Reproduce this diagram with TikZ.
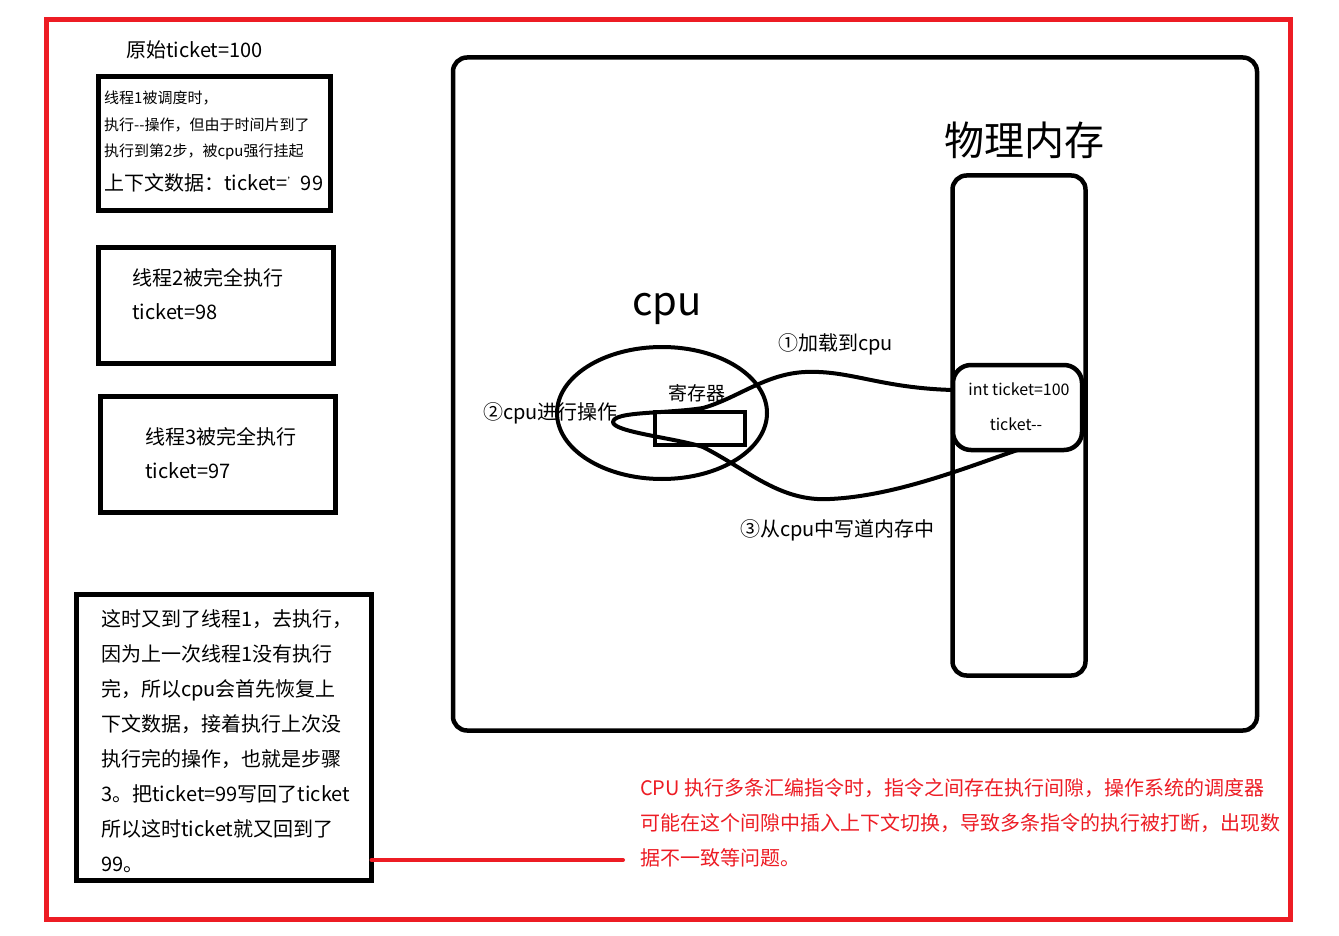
\documentclass[tikz,border=0pt]{standalone}
\usepackage{fontspec}
\usetikzlibrary{shapes.geometric}
\setmainfont{Noto Sans CJK SC}
\definecolor{pred}{RGB}{237,28,36}
\newcommand{\fs}[2]{\fontsize{#1}{#2}\selectfont}
\tikzset{
  redframe/.style={draw=pred, line width=5pt},
  blackbox/.style={draw=black, line width=5pt, rectangle, inner sep=0pt, outer sep=0pt, anchor=north west},
  roundbox/.style={draw=black, line width=4.5pt, rectangle, rounded corners=#1, inner sep=0pt, outer sep=0pt, anchor=north west},
  txt/.style={inner sep=0pt, anchor=west, font=\fs{20}{24}},
  smalltxt/.style={inner sep=0pt, anchor=west, font=\fs{15}{18}},
  multi/.style={inner sep=0pt, anchor=north west, align=left, font=\fs{20}{35}},
  redtxt/.style={inner sep=0pt, anchor=north west, align=left, font=\fs{20}{35}, text=pred},
  bigtxt/.style={inner sep=0pt, font=\fs{40}{48}},
  curve/.style={draw=black, line width=4pt, line cap=round, line join=round},
  redline/.style={draw=pred, line width=4pt, line cap=round},
}
\begin{document}
\begin{tikzpicture}[x=1pt,y=-1pt]
\useasboundingbox[fill=white] (0,0) rectangle (1339,936);
% outer red frame
\draw[redframe] (46.5,19.5) rectangle (1290,919);

% title
\node[txt] (orig) at (126,50) {原始ticket=100};

% box 1
\node[blackbox, minimum width=232pt, minimum height=134pt] (b1) at (98.5,76.5) {};
\node[smalltxt] (b1l1) at (104,98) {线程1被调度时，};
\node[smalltxt] (b1l2) at (104,125) {执行-{}-操作，但由于时间片到了};
\node[smalltxt] (b1l3) at (104,152) {执行到第2步，被cpu强行挂起};
\node[txt] (b1l4) at (104,183) {上下文数据：ticket={\fs{10}{10}\raisebox{5pt}{'}}\,99};

% box 2
\node[blackbox, minimum width=235pt, minimum height=116pt] (b2) at (98.5,247.5) {};
\node[txt] (b2l1) at (132,278) {线程2被完全执行};
\node[txt] (b2l2) at (132,312) {ticket=98};

% box 3
\node[blackbox, minimum width=235pt, minimum height=116pt] (b3) at (100.5,396.5) {};
\node[txt] (b3l1) at (145,437) {线程3被完全执行};
\node[txt] (b3l2) at (145,471) {ticket=97};

% box 4
\node[blackbox, minimum width=295pt, minimum height=286pt] (b4) at (76.5,594.5) {};
\node[multi] (b4t) at (101,609) {这时又到了线程1，去执行，\\因为上一次线程1没有执行\\完，所以cpu会首先恢复上\\下文数据，接着执行上次没\\执行完的操作，也就是步骤\\3。把ticket=99写回了ticket\\所以这时ticket就又回到了\\99。};

% red note and connector
\coordinate (redmid) at (497,860);
\coordinate (redend) at (623,860);
\draw[redline] (b4.east |- redmid) -- (redmid) -- (redend);
\node[redtxt] (note) at (640,778) {CPU 执行多条汇编指令时，指令之间存在执行间隙，操作系统的调度器\\可能在这个间隙中插入上下文切换，导致多条指令的执行被打断，出现数\\据不一致等问题。};

% big system frame
\node[roundbox=14pt, minimum width=804pt, minimum height=673pt] (sys) at (453,57.5) {};

% physical memory
\node[bigtxt] (memlabel) at (1024,140) {物理内存};
\node[roundbox=14pt, minimum width=133pt, minimum height=500pt] (mem) at (952.5,175.5) {};
\node[roundbox=18pt, minimum width=129pt, minimum height=85pt, fill=white] (cell) at (953,365) {};
\node[inner sep=0pt, font=\fs{16}{19}] (cellt1) at (1019,389) {int ticket=100};
\node[inner sep=0pt, font=\fs{16}{19}] (cellt2) at (1016,424) {ticket-{}-};

% cpu
\node[bigtxt] (cpulabel) at (667,309) {cpu};
\node[draw=black, line width=4pt, ellipse, minimum width=210pt, minimum height=132pt, inner sep=0pt] (cpu) at (662,413) {};
\node[inner sep=0pt, font=\fs{19}{22}] (reglabel) at (697,393) {寄存器};
\node[draw=black, line width=4.5pt, rectangle, minimum width=90pt, minimum height=33pt, inner sep=0pt] (reg) at (700,428.5) {};

% step labels
\node[txt] (s2) at (483,413) {②cpu进行操作};
\node[txt] (s1) at (778,344) {①加载到cpu};
\node[txt] (s3) at (740,530) {③从cpu中写道内存中};

% loop curve
\coordinate (y390) at (0,390);
\draw[curve] (cell.west |- y390)
  .. controls (880,388) and (850,370) .. (805,372)
  .. controls (765,374) and (738,398) .. (703,408)
  .. controls (665,414) and (614,411) .. (613,422)
  .. controls (613,432) and (675,438) .. (703,447)
  .. controls (748,470) and (780,502) .. (830,499)
  .. controls (895,496) and (965,468) .. (cell.south);
\end{tikzpicture}
\end{document}
